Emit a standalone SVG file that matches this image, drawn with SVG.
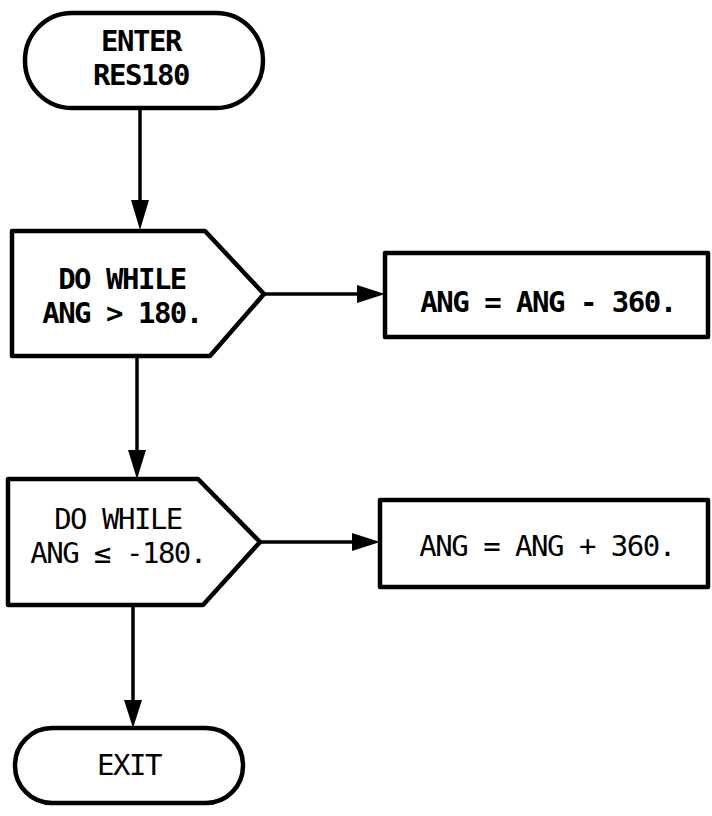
<svg xmlns="http://www.w3.org/2000/svg" width="712" height="816" viewBox="0 0 712 816">
<style>
.shape{fill:#fff;stroke:#000;stroke-width:4.5;stroke-linejoin:round}
.conn{fill:none;stroke:#000;stroke-width:3.5}
.t{font-family:"DejaVu Sans Mono","Liberation Mono",monospace;font-size:29px;letter-spacing:-1.5px;text-anchor:middle;fill:#000}
.b{font-weight:bold}
</style>
<rect width="712" height="816" fill="#fff"/>
<g id="connectors">
<line class="conn" x1="140" y1="108" x2="140" y2="200"/>
<path d="M131,200 L149,200 L140,230 Z"/>
<line class="conn" x1="264" y1="294" x2="358" y2="294"/>
<path d="M357,285 L357,303 L385,294 Z"/>
<line class="conn" x1="137" y1="356" x2="137" y2="450"/>
<path d="M128,450 L146,450 L137,479 Z"/>
<line class="conn" x1="260" y1="542" x2="353" y2="542"/>
<path d="M352,533 L352,551 L380,542 Z"/>
<line class="conn" x1="133" y1="605" x2="133" y2="700"/>
<path d="M124,700 L142,700 L133,728 Z"/>
</g>
<g id="enter">
<rect class="shape" x="25" y="13" width="238" height="95" rx="47" ry="47"/>
<text class="t b" x="141" y="51">ENTER</text>
<text class="t b" x="141" y="85">RES180</text>
</g>
<g id="dowhile1">
<path class="shape" d="M12,231 L205,231 L264,294 L210,356 L12,356 Z"/>
<text class="t b" x="122" y="289">DO WHILE</text>
<text class="t b" x="122" y="323">ANG &gt; 180.</text>
</g>
<g id="box1">
<rect class="shape" x="385" y="253" width="323" height="84"/>
<text class="t b" x="548" y="312">ANG = ANG - 360.</text>
</g>
<g id="dowhile2">
<path class="shape" d="M8,479 L198,479 L260,542 L203,605 L8,605 Z"/>
<text class="t" x="118" y="529">DO WHILE</text>
<text class="t" x="118" y="563">ANG ≤ -180.</text>
</g>
<g id="box2">
<rect class="shape" x="380" y="500" width="328" height="87"/>
<text class="t" x="547" y="556">ANG = ANG + 360.</text>
</g>
<g id="exit">
<rect class="shape" x="15" y="728" width="228" height="75" rx="37" ry="37"/>
<text class="t" x="129" y="775">EXIT</text>
</g>
</svg>
